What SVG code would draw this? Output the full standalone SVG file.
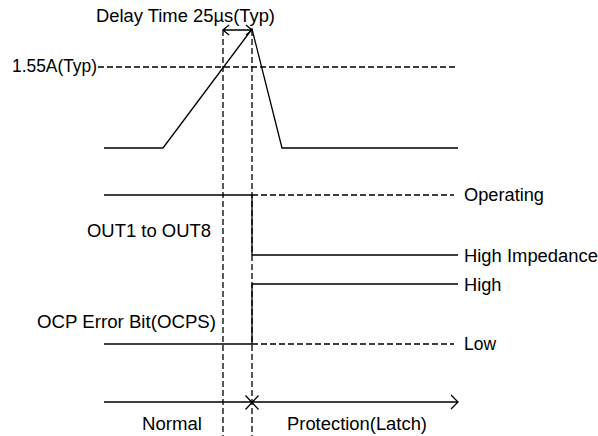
<svg xmlns="http://www.w3.org/2000/svg" width="598" height="436" viewBox="0 0 598 436">
<style>
.s{fill:none;stroke:#000;stroke-width:1.3}
.d{fill:none;stroke:#000;stroke-width:1.3;stroke-dasharray:6,3}
text{font-family:"Liberation Sans",Arial,sans-serif;font-size:17.5px;fill:#000}
</style>
<rect width="598" height="436" fill="#fff"/>
<g id="connectors">
<path class="d" d="M223,30V436M252,30V436"/>
<path class="d" d="M98,67H458"/>
<path class="s" d="M104,148H163L252,29L282,148H458"/>
<path class="s" d="M223,30H252M229,25L223,30L229,35M246,25L252,30L246,35"/>
<path class="s" d="M104,195H252V255H458"/>
<path class="d" d="M252,195H454"/>
<path class="s" d="M104,344H252V284H458"/>
<path class="d" d="M252,344H454"/>
<path class="s" d="M104,402H458M451,395L458,402L451,409"/>
<path class="s" d="M245.5,395.5L258.5,409.5M258.5,395.5L245.5,409.5"/>
</g>
<g id="label-delay"><text x="96" y="22" textLength="179" lengthAdjust="spacingAndGlyphs">Delay Time 25µs(Typ)</text></g>
<g id="label-current"><text x="12" y="72" textLength="85" lengthAdjust="spacingAndGlyphs">1.55A(Typ)</text></g>
<g id="label-out"><text x="87" y="237" textLength="124" lengthAdjust="spacingAndGlyphs">OUT1 to OUT8</text></g>
<g id="label-ocp"><text x="37" y="327.5" textLength="179" lengthAdjust="spacingAndGlyphs">OCP Error Bit(OCPS)</text></g>
<g id="label-operating"><text x="464" y="201" textLength="80" lengthAdjust="spacingAndGlyphs">Operating</text></g>
<g id="label-highz"><text x="464" y="261.5" textLength="134" lengthAdjust="spacingAndGlyphs">High Impedance</text></g>
<g id="label-high"><text x="464" y="291" textLength="37.5" lengthAdjust="spacingAndGlyphs">High</text></g>
<g id="label-low"><text x="464" y="350" textLength="32" lengthAdjust="spacingAndGlyphs">Low</text></g>
<g id="label-normal"><text x="142" y="430" textLength="60" lengthAdjust="spacingAndGlyphs">Normal</text></g>
<g id="label-protection"><text x="287" y="430" textLength="140" lengthAdjust="spacingAndGlyphs">Protection(Latch)</text></g>
</svg>
